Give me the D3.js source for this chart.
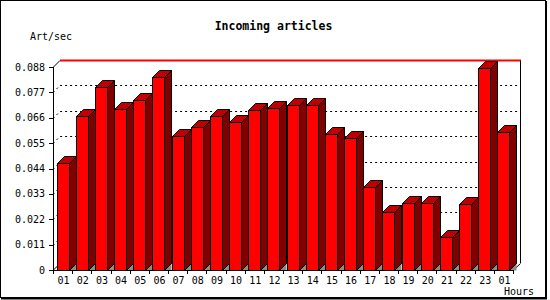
<html>
<head>
<style>
  body { margin: 0; background: #fff; }
  text { font-family: "DejaVu Sans Mono", "Liberation Mono", monospace; fill: #000; }
</style>
</head>
<body>
<svg id="chart"></svg>
<script src="https://cdn.jsdelivr.net/npm/d3@7/dist/d3.min.js"></script>
<script>
// hour labels along x, one per bar
var hours = ["01","02","03","04","05","06","07","08","09","10","11","12",
             "13","14","15","16","17","18","19","20","21","22","23","01"];
// incoming articles per second for each hour
var artPerSec = [0.0463, 0.0666, 0.0792, 0.0697, 0.0736, 0.0835, 0.0580, 0.0619,
                 0.0666, 0.0642, 0.0692, 0.0701, 0.0714, 0.0714, 0.0588, 0.0571,
                 0.0358, 0.0250, 0.0289, 0.0289, 0.0142, 0.0285, 0.0874, 0.0597];
var yTicks = [0, 0.011, 0.022, 0.033, 0.044, 0.055, 0.066, 0.077, 0.088];
var yTickLabels = ["0","0.011","0.022","0.033","0.044","0.055","0.066","0.077","0.088"];

var W = 550, H = 300;
var pL = 53, pR = 513, pT = 67, pB = 270;
var depth = 7;

var svg = d3.select("svg#chart")
    .attr("width", W)
    .attr("height", H);

// image frame
svg.append("rect")
    .attr("x", 0.5).attr("y", 0.5)
    .attr("width", 545).attr("height", 297)
    .attr("fill", "#fff")
    .attr("stroke", "#000");
svg.append("path")
    .attr("d", "M546,1V298.5H1")
    .attr("fill", "none")
    .attr("stroke", "#000")
    .attr("stroke-width", 2);

var x = d3.scaleBand()
    .domain(d3.range(hours.length))
    .range([pL, pR]);

var y = d3.scaleLinear()
    .domain([0, 0.088])
    .range([pB, pT]);

// gridlines on the back wall (dotted), with the short 3D diagonal from the axis
svg.append("g").attr("class", "grid")
  .selectAll("path")
  .data(yTicks.filter(function(d) { return d > 0 && d < 0.088; }))
  .enter().append("path")
    .attr("d", function(d) {
        var yy = Math.round(y(d)) + 0.5;
        return "M" + pL + "," + yy + "L" + (pL + depth) + "," + (yy - depth) +
               "H" + (pR + depth + 0.5);
    })
    .attr("fill", "none")
    .attr("stroke", "#000")
    .attr("stroke-dasharray", "2,3");

// back wall top (red) and right edge
var yTop = Math.round(y(0.088)) + 0.5;
svg.append("path")
    .attr("d", "M" + pL + "," + yTop + "L" + (pL + depth) + "," + (yTop - depth))
    .attr("stroke", "#000").attr("fill", "none");
svg.append("line")
    .attr("x1", pL + depth).attr("x2", pR + depth + 1)
    .attr("y1", yTop - depth).attr("y2", yTop - depth)
    .attr("stroke", "#ff0000").attr("stroke-width", 2);
svg.append("line")
    .attr("x1", pR + depth + 0.5).attr("x2", pR + depth + 0.5)
    .attr("y1", yTop - depth).attr("y2", pB - depth)
    .attr("stroke", "#000");

// floor edges
svg.append("path")
    .attr("d", "M" + pL + "," + (pB + 0.5) + "L" + (pL + depth) + "," + (pB + 0.5 - depth))
    .attr("stroke", "#000").attr("fill", "none");
svg.append("path")
    .attr("d", "M" + pR + "," + (pB + 0.5) + "L" + (pR + depth + 0.5) + "," + (pB + 0.5 - depth))
    .attr("stroke", "#000").attr("fill", "none");

// bars
var bw = 12;
var bars = svg.append("g").attr("id", "bars")
  .selectAll("g")
  .data(artPerSec)
  .enter().append("g");

function x0(i) { return Math.round(x(i) + x.bandwidth() / 2 - bw / 2) + 0.5; }

// floor shadow under each side face
bars.append("path")
    .attr("d", function(d, i) {
        var a = x0(i) + bw, b = pB + 0.5;
        return "M" + a + "," + b + "L" + (a + depth) + "," + (b - depth) + "V" + b + "Z";
    })
    .attr("fill", "#8c8c8c");

// side face
bars.append("path")
    .attr("d", function(d, i) {
        var a = x0(i) + bw, t = Math.round(y(d)) + 0.5, b = pB + 0.5;
        return "M" + a + "," + t + "L" + (a + depth) + "," + (t - depth) +
               "V" + (b - depth) + "L" + a + "," + b + "Z";
    })
    .attr("fill", "#800000")
    .attr("stroke", "#000");

// top face
bars.append("path")
    .attr("d", function(d, i) {
        var a = x0(i), t = Math.round(y(d)) + 0.5;
        return "M" + a + "," + t + "L" + (a + depth) + "," + (t - depth) +
               "H" + (a + bw + depth) + "L" + (a + bw) + "," + t + "Z";
    })
    .attr("fill", "#c00000")
    .attr("stroke", "#000");

// front face
bars.append("rect")
    .attr("x", function(d, i) { return x0(i); })
    .attr("y", function(d) { return Math.round(y(d)) + 0.5; })
    .attr("width", bw)
    .attr("height", function(d) { return pB - Math.round(y(d)); })
    .attr("fill", "#ff0000")
    .attr("stroke", "#000");

// y axis
var yAxis = svg.append("g").attr("class", "y axis");
yAxis.append("line")
    .attr("x1", pL + 0.5).attr("x2", pL + 0.5)
    .attr("y1", pT).attr("y2", pB + 1)
    .attr("stroke", "#000");
yAxis.selectAll(".tick")
  .data(yTicks)
  .enter().append("line")
    .attr("x1", pL - 4).attr("x2", pL)
    .attr("y1", function(d) { return Math.round(y(d)) + 0.5; })
    .attr("y2", function(d) { return Math.round(y(d)) + 0.5; })
    .attr("stroke", "#000");
yAxis.selectAll("text")
  .data(yTicks)
  .enter().append("text")
    .attr("x", 45)
    .attr("y", function(d) { return y(d) + 3.5; })
    .attr("text-anchor", "end")
    .attr("font-size", "10px")
    .text(function(d, i) { return yTickLabels[i]; });

// x axis
var xAxis = svg.append("g").attr("class", "x axis");
xAxis.append("line")
    .attr("x1", pL).attr("x2", pR)
    .attr("y1", pB + 0.5).attr("y2", pB + 0.5)
    .attr("stroke", "#000");
xAxis.selectAll(".tick")
  .data(d3.range(hours.length + 1))
  .enter().append("line")
    .attr("x1", function(i) { return Math.round(pL + i * x.step()) + 0.5; })
    .attr("x2", function(i) { return Math.round(pL + i * x.step()) + 0.5; })
    .attr("y1", pB).attr("y2", pB + 4)
    .attr("stroke", "#000");
xAxis.selectAll("text")
  .data(hours)
  .enter().append("text")
    .attr("x", function(d, i) { return x(i) + x.bandwidth() / 2 + 1; })
    .attr("y", 284)
    .attr("text-anchor", "middle")
    .attr("font-size", "10px")
    .text(function(d) { return d; });

// titles
svg.append("text")
    .attr("x", 273.5).attr("y", 30)
    .attr("text-anchor", "middle")
    .attr("font-size", "11.5px")
    .attr("font-weight", "bold")
    .text("Incoming articles");

svg.append("text")
    .attr("x", 30).attr("y", 40)
    .attr("font-size", "10px")
    .text("Art/sec");

svg.append("text")
    .attr("x", 534).attr("y", 295)
    .attr("text-anchor", "end")
    .attr("font-size", "10px")
    .text("Hours");
</script>
</body>
</html>
